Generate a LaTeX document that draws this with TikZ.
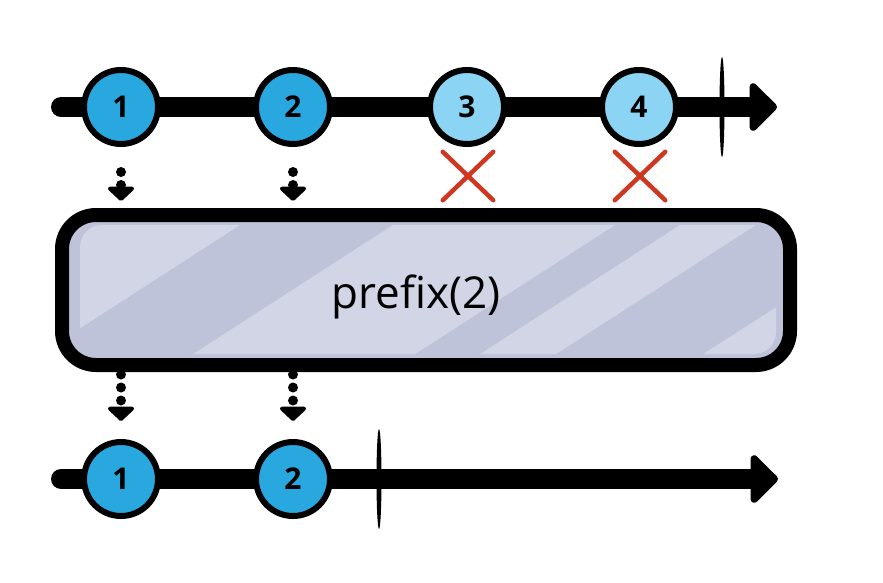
\documentclass[tikz,border=0pt]{standalone}
\usepackage{fontspec}
\setmainfont{Open Sans}
\usetikzlibrary{arrows.meta,shapes.geometric,shapes.misc,calc}
\definecolor{dkblue}{HTML}{29A8E0}
\definecolor{ltblue}{HTML}{8BD4F3}
\definecolor{xred}{HTML}{CF3720}
\definecolor{boxdark}{HTML}{BEC3DA}
\definecolor{boxlight}{HTML}{D1D5E5}
\tikzset{
  axis/.style={line width=20pt, line cap=round, -{Triangle[length=29pt,width=56pt,round]}},
  marble/.style={circle, draw, line width=6pt, minimum size=74pt, inner sep=0pt, font=\fontsize{30}{30}\selectfont\bfseries},
  darkm/.style={marble, fill=dkblue},
  lightm/.style={marble, fill=ltblue},
  tickmark/.style={ellipse, fill=black, minimum width=5pt, minimum height=100pt, inner sep=0pt},
  crossmark/.style={cross out, draw=xred, line width=4.5pt, line cap=round, minimum width=46pt, minimum height=44pt, inner sep=0pt},
  dotarrow/.style={line width=10pt, line cap=round, dash pattern=on 0pt off 13pt, -{Triangle[length=15pt,width=31pt,round]}},
  opbox/.style={draw, line width=14pt, rounded corners=34pt, minimum width=728pt, minimum height=150pt, fill=boxdark, inner sep=0pt},
  oplabel/.style={font=\fontsize{44}{44}\selectfont, inner sep=0pt}
}
\begin{document}
\begin{tikzpicture}[x=1pt,y=-1pt]
\useasboundingbox (0,0) rectangle (883,582);
% top timeline
\coordinate (ts) at (61,107);
\coordinate (te) at (777,107);
\draw[axis] (ts) -- (te);
\node[tickmark] (ttick) at (722,107) {};
\node[darkm] (t1) at (121,107) {1};
\node[darkm] (t2) at (293,107) {2};
\node[lightm] (t3) at (467,107) {3};
\node[lightm] (t4) at (639,107) {4};
\node[crossmark] (x3) at (468,176) {};
\node[crossmark] (x4) at (640,176) {};
% operator box
\node[opbox] (op) at (426,290) {};
\begin{scope}
  \clip[rounded corners=22pt] (80,225) rectangle (776,354);
  \fill[boxlight] (0,225) -- (240,225) -- (34,358) -- (0,358) -- cycle;
  \fill[boxlight] (393,225) -- (615,225) -- (409,358) -- (187,358) -- cycle;
  \fill[boxlight] (680,225) -- (756,225) -- (550,358) -- (474,358) -- cycle;
  \fill[boxlight] (700,356) -- (800,356) -- (800,292) -- cycle;
\end{scope}
\node[oplabel] (opl) at (416,297) {prefix(2)};
% bottom timeline
\coordinate (bs) at (61,479);
\coordinate (be) at (778,479);
\draw[axis] (bs) -- (be);
\node[tickmark] (btick) at (379,479) {};
\node[darkm] (b1) at (121,479) {1};
\node[darkm] (b2) at (293,479) {2};
% dotted arrows
\draw[dotarrow] ($(t1.south)+(0,25)$) -- ($(t1 |- op.north)+(0,-7)$);
\draw[dotarrow] ($(t2.south)+(0,25)$) -- ($(t2 |- op.north)+(0,-7)$);
\draw[dotarrow] ($(b1 |- op.south)+(0,2.5)$) -- ($(b1.north)+(0,-18)$);
\draw[dotarrow] ($(b2 |- op.south)+(0,2.5)$) -- ($(b2.north)+(0,-18)$);
\end{tikzpicture}
\end{document}
